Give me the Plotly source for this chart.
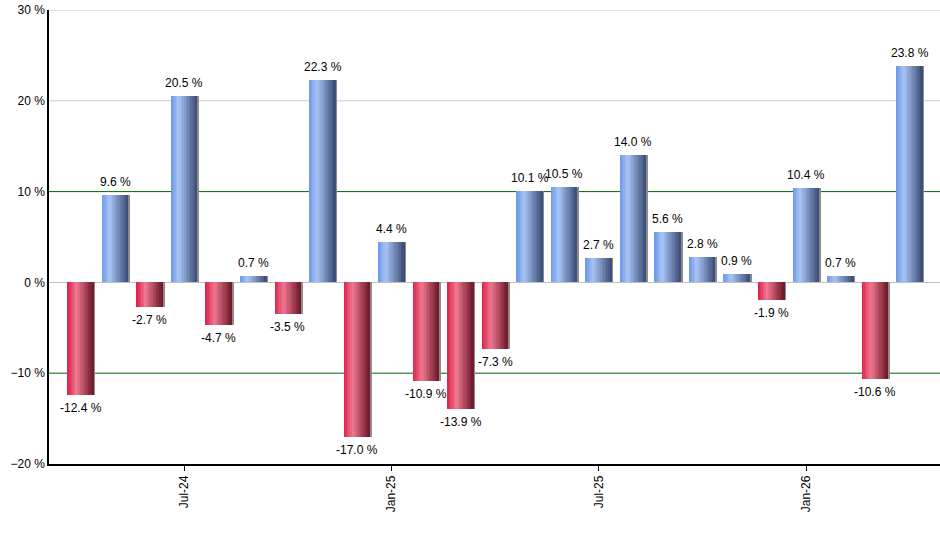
import plotly.graph_objects as go

# monthly returns, Apr-24 .. Apr-26
months = ["Apr-24", "May-24", "Jun-24", "Jul-24", "Aug-24", "Sep-24", "Oct-24", "Nov-24",
          "Dec-24", "Jan-25", "Feb-25", "Mar-25", "Apr-25", "May-25", "Jun-25", "Jul-25",
          "Aug-25", "Sep-25", "Oct-25", "Nov-25", "Dec-25", "Jan-26", "Feb-26", "Mar-26",
          "Apr-26"]
returns = [-12.4, 9.6, -2.7, 20.5, -4.7, 0.7, -3.5, 22.3, -17.0, 4.4, -10.9, -13.9,
           -7.3, 10.1, 10.5, 2.7, 14.0, 5.6, 2.8, 0.9, -1.9, 10.4, 0.7, -10.6, 23.8]
shown_ticks = ["Jul-24", "Jan-25", "Jul-25", "Jan-26"]

# horizontal gradient stops (position, rgb)
blue_stops = [(0.0, (107, 151, 230)), (0.3, (169, 197, 245)), (1.0, (58, 76, 116))]
red_stops = [(0.0, (220, 31, 72)), (0.35, (239, 121, 144)), (1.0, (107, 22, 40))]


def grad(stops, t):
    for (t0, c0), (t1, c1) in zip(stops, stops[1:]):
        if t <= t1:
            f = (t - t0) / (t1 - t0)
            return "rgb(%d,%d,%d)" % tuple(round(a + (b - a) * f) for a, b in zip(c0, c1))
    return "rgb(%d,%d,%d)" % stops[-1][1]


x = list(range(len(months)))
bar_w = 0.75
n_slices = 16
slice_w = bar_w / n_slices

fig = go.Figure()

# gridlines: gray at 20/30, dark green at +/-10
for lvl in (20, 30):
    fig.add_hline(y=lvl, line=dict(color="#c8c8c8", width=1), layer="below")
for lvl in (10, -10):
    fig.add_hline(y=lvl, line=dict(color="#006400", width=1), layer="below")

# gray shadow on the right edge
fig.add_trace(go.Bar(x=x, y=returns, width=0.06, offset=bar_w / 2 - 0.01,
                     marker=dict(color="#8c8c8c", line_width=0), hoverinfo="skip"))

# gradient made of thin slices
for i in range(n_slices):
    t = (i + 0.5) / n_slices
    cols = [grad(blue_stops, t) if v >= 0 else grad(red_stops, t) for v in returns]
    fig.add_trace(go.Bar(x=x, y=returns, width=slice_w * 1.08, offset=-bar_w / 2 + i * slice_w,
                         marker=dict(color=cols, line_width=0), hoverinfo="skip"))

# value labels
for xi, v in zip(x, returns):
    fig.add_annotation(x=xi, y=v, text="%.1f %%" % v, showarrow=False,
                       yanchor="bottom" if v >= 0 else "top",
                       yshift=4 if v >= 0 else -4,
                       font=dict(family="Liberation Sans, Arial", size=12, color="#000000"))

fig.update_layout(
    width=940, height=550,
    margin=dict(l=49, r=0, t=10, b=86),
    barmode="overlay", bargap=0,
    showlegend=False,
    plot_bgcolor="white", paper_bgcolor="white",
    font=dict(family="Liberation Sans, Arial", size=12, color="#000000"),
)
fig.update_xaxes(
    range=[-0.92, 24.88], automargin=False,
    tickvals=[months.index(m) for m in shown_ticks], ticktext=shown_ticks,
    tickangle=-90, ticks="outside", ticklen=5, tickcolor="black",
    showline=True, linecolor="black", linewidth=1.5,
    showgrid=False, zeroline=False,
)
fig.update_yaxes(
    range=[-20, 30], dtick=10, ticksuffix=" %", automargin=False,
    ticks="", showline=True, linecolor="black", linewidth=1.5,
    showgrid=False,
    zeroline=True, zerolinecolor="#c0c0c0", zerolinewidth=1,
)

# drop the page's default body margin so the figure sits at the window corner
fig.write_html("out.html", config={"displayModeBar": False},
               post_script="document.body.style.margin='0';")
